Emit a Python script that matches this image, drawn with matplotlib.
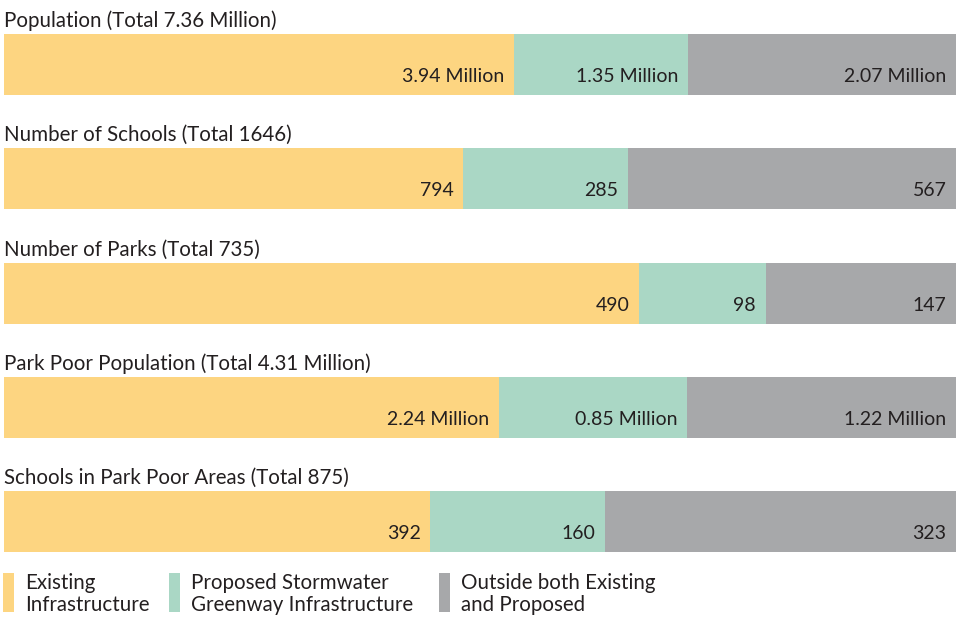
import matplotlib
matplotlib.use("Agg")
import matplotlib.pyplot as plt
from matplotlib.patches import Rectangle
import numpy as np

plt.rcParams['font.family'] = ['Lato', 'DejaVu Sans']

titles = [
    "Population (Total 7.36 Million)",
    "Number of Schools (Total 1646)",
    "Number of Parks (Total 735)",
    "Park Poor Population (Total 4.31 Million)",
    "Schools in Park Poor Areas (Total 875)",
]
existing = [3.94, 794, 490, 2.24, 392]
proposed = [1.35, 285, 98, 0.85, 160]
outside = [2.07, 567, 147, 1.22, 323]
value_labels = [
    ["3.94 Million", "1.35 Million", "2.07 Million"],
    ["794", "285", "567"],
    ["490", "98", "147"],
    ["2.24 Million", "0.85 Million", "1.22 Million"],
    ["392", "160", "323"],
]
legend_labels = ["Existing\nInfrastructure",
                 "Proposed Stormwater\nGreenway Infrastructure",
                 "Outside both Existing\nand Proposed"]
colors = ["#FDD581", "#AAD7C5", "#A7A8AA"]

W, H = 960, 618
fig = plt.figure(figsize=(W / 100, H / 100), dpi=100)
ax = fig.add_axes([4 / W, 0, 952 / W, 1])

row_px = 114.3
first_center = 64.5
ax.set_ylim((H - first_center) / row_px, -first_center / row_px)
ax.set_xlim(0, 1)
ax.axis('off')

bar_h = 61 / row_px
data = np.array([existing, proposed, outside], dtype=float).T
fs_val = 14
fs_title = 14.8
for i, row in enumerate(data):
    total = row.sum()
    fracs = row / total
    lefts = np.concatenate([[0], np.cumsum(fracs)[:-1]])
    for j in range(3):
        ax.barh(i, fracs[j], left=lefts[j], height=bar_h, color=colors[j],
                edgecolor='none')
        ax.text(lefts[j] + fracs[j] - 9.5 / 952, i + 17.5 / row_px,
                value_labels[i][j], ha='right', va='baseline',
                fontsize=fs_val, color='#231f20')
    ax.text(0, i - 37.5 / row_px, titles[i], ha='left', va='baseline',
            fontsize=fs_title, color='#231f20')

# legend
leg_x = [3, 169, 439]
for k in range(3):
    fig.patches.append(Rectangle((leg_x[k] / W, (H - 612) / H), 11 / W, 39 / H,
                                 transform=fig.transFigure, facecolor=colors[k],
                                 edgecolor='none'))
    fig.text((leg_x[k] + 22) / W, (H - 611) / H, legend_labels[k],
             ha='left', va='baseline', fontsize=fs_title, color='#231f20',
             linespacing=1.15)

fig.savefig("out.png", dpi=100)
